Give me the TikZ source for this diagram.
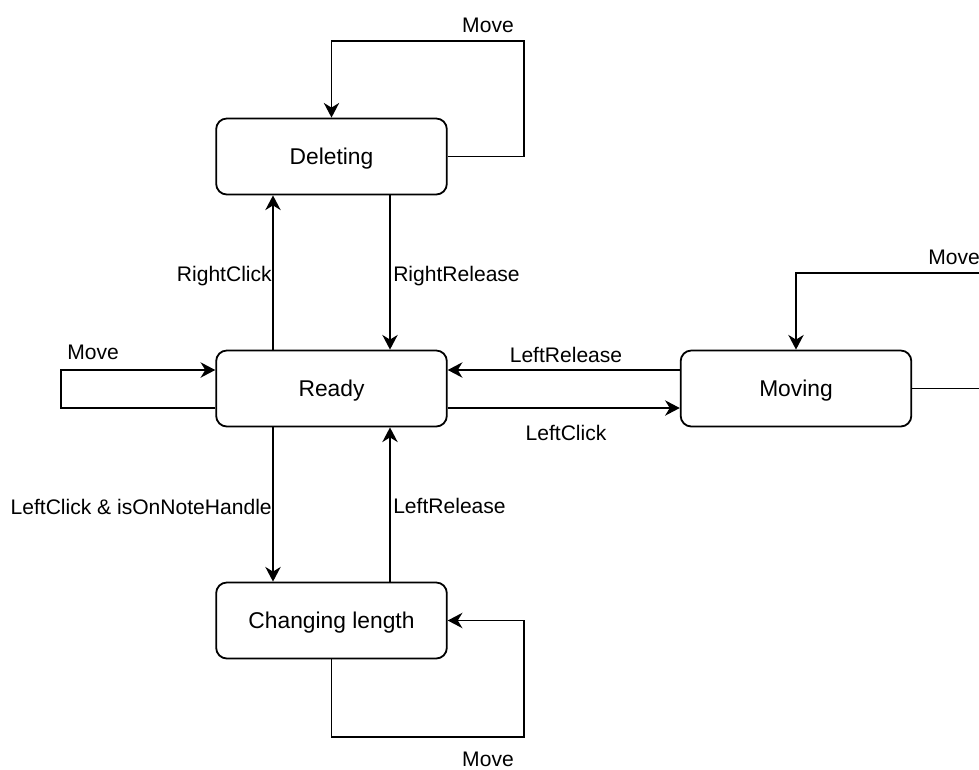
\documentclass[tikz,border=0pt]{standalone}
\usepackage{fontspec}
\setmainfont{Liberation Sans}
\usetikzlibrary{arrows.meta}
\tikzset{
  x=0.75pt, y=-0.75pt,
  state/.style={draw, line width=1.35pt, rounded corners=8pt, minimum width=173pt, minimum height=57pt,
    inner sep=0pt, text height=12.2pt, text depth=0pt, font=\fontsize{17.1}{20}\selectfont},
  lbl/.style={inner sep=0pt, font=\fontsize{15.8}{19}\selectfont},
  arr/.style={line width=1.35pt, -{Stealth[length=11pt,width=11.5pt,inset=3.5pt]}},
}
\begin{document}
\begin{tikzpicture}
\useasboundingbox (0,0) rectangle (979,769);
\clip (0,0) rectangle (979,769);
% states
\node[state] (del) at (331.5,156.5) {Deleting};
\node[state] (rdy) at (331.5,388.5) {Ready};
\node[state] (mov) at (796,388.5) {Moving};
\node[state] (chg) at (331.5,620.5) {Changing length};
% helper coordinates
\coordinate (xA) at (273,0);
\coordinate (xB) at (390,0);
\coordinate (yA) at (0,370);
\coordinate (yB) at (0,408);
\coordinate (dl) at (524,41);
\coordinate (rl) at (61,370);
\coordinate (mr) at (1000,388.5);
\coordinate (mt) at (1000,273);
\coordinate (cl) at (524,737);
% vertical edges
\draw[arr] (rdy.north -| xA) -- (del.south -| xA);
\draw[arr] (del.south -| xB) -- (rdy.north -| xB);
\draw[arr] (rdy.south -| xA) -- (chg.north -| xA);
\draw[arr] (chg.north -| xB) -- (rdy.south -| xB);
% horizontal edges
\draw[arr] (mov.west |- yA) -- (rdy.east |- yA);
\draw[arr] (rdy.east |- yB) -- (mov.west |- yB);
% self loops
\draw[arr] (del.east) -| (dl) -| (del.north);
\draw[arr] (rdy.west |- yB) -| (rl) -- (rdy.west |- yA);
\draw[arr] (mov.east) -- (mr) -- (mt) -| (mov.north);
\draw[arr] (chg.south) |- (cl) |- (chg.east);
% labels
\node[lbl, anchor=base east] (lrc) at (272,281.5) {RightClick};
\node[lbl, anchor=base west] (lrr) at (393,281.5) {RightRelease};
\node[lbl, anchor=base] (llr1) at (566,362) {LeftRelease};
\node[lbl, anchor=base] (llc) at (566,440) {LeftClick};
\node[lbl, anchor=base east] (llch) at (272,514) {LeftClick \& isOnNoteHandle};
\node[lbl, anchor=base west] (llr2) at (393,513.5) {LeftRelease};
\node[lbl, anchor=base] (lm1) at (488,32) {Move};
\node[lbl, anchor=base west] (lm2) at (67,359) {Move};
\node[lbl, anchor=base west] (lm3) at (928,264) {Move};
\node[lbl, anchor=base] (lm4) at (488,766.5) {Move};
\end{tikzpicture}
\end{document}
